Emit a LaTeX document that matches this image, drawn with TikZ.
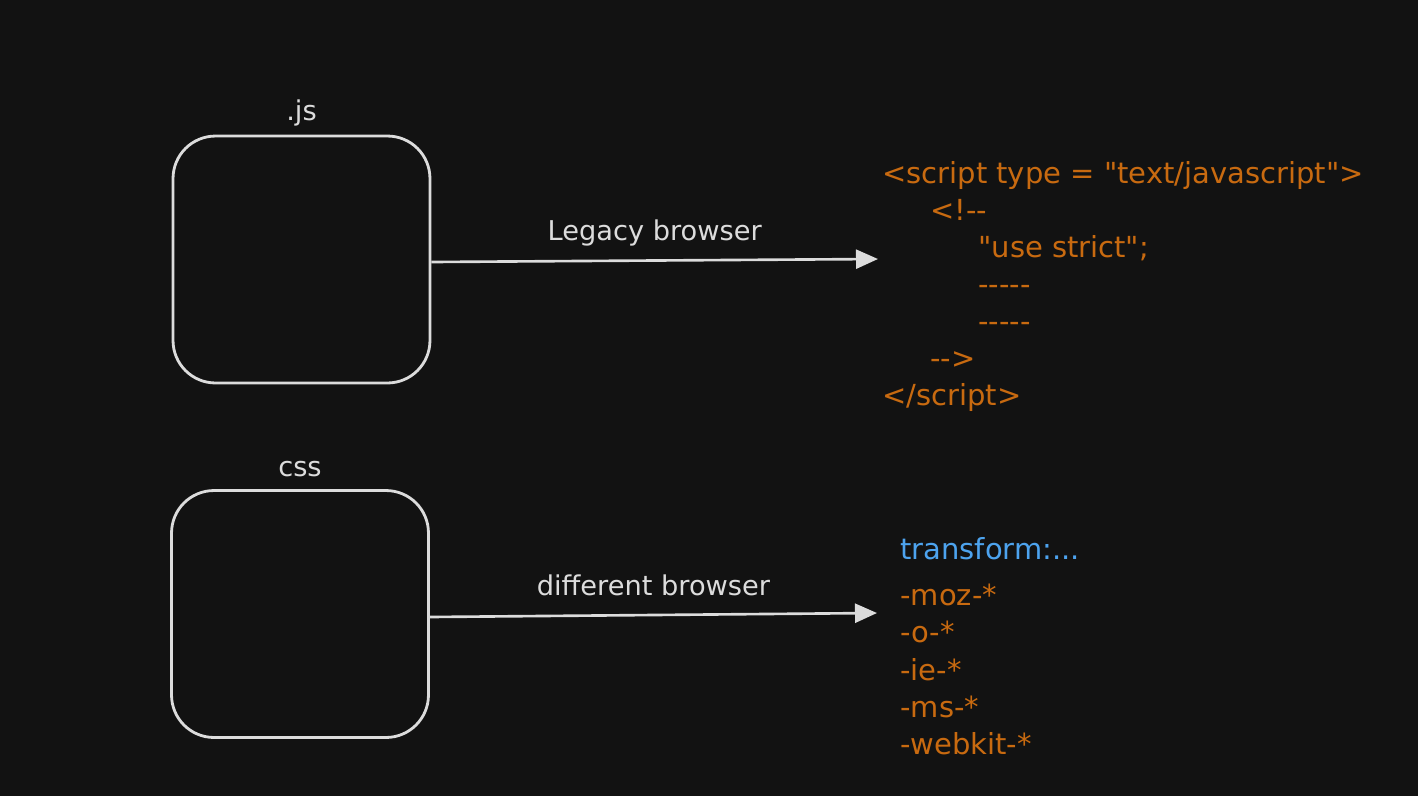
\documentclass[tikz,border=0pt]{standalone}
\usepackage{fontspec}
\setmainfont{DejaVu Sans}[Ligatures=TeXOff]
\usetikzlibrary{arrows.meta, positioning}
\definecolor{bgdark}{HTML}{121212}
\definecolor{strokelight}{HTML}{DCDCDC}
\definecolor{codeorange}{HTML}{C86A10}
\definecolor{propblue}{HTML}{4DA3EE}
\tikzset{
    filebox/.style={draw=strokelight, line width=1.6pt, rounded corners=0.85cm, minimum width=5.14cm, minimum height=4.94cm},
    boxlabel/.style={text=strokelight, font=\fontsize{15.5}{18}\selectfont},
    flow/.style={-{Triangle[length=0.44cm, width=0.38cm]}, draw=strokelight, line width=1.5pt},
    flowlabel/.style={text=strokelight, font=\fontsize{15.5}{18}\selectfont, anchor=base, yshift=0.4cm},
    codeblock/.style={text=codeorange, align=left, inner sep=0pt, font=\fontsize{16.5}{21.1}\selectfont}
}

\begin{document}
\begin{tikzpicture}[x=0.02cm, y=-0.02cm]
\fill[bgdark] (0,0) rectangle (1418,796);
\useasboundingbox (0,0) rectangle (1418,796);

% Boxes
\node[filebox] (jsbox)  at (301.5,259.5) {};
\node[filebox] (cssbox) at (300,614) {};

\node[boxlabel, above=0.04cm of jsbox]  (jslabel)  {.js};
\node[boxlabel, above=0.12cm of cssbox] (csslabel) {css};

% Code on the right
\coordinate (jsend)  at (878,259);
\coordinate (cssend) at (877,613);

\node[codeblock, anchor=north west] (jscode) at (882,161)
  {<script type = "text/javascript">\\
   \hspace*{0.96cm}<!--\\
   \hspace*{1.92cm}"use strict";\\
   \hspace*{1.92cm}-----\\
   \hspace*{1.92cm}-----\\
   \hspace*{0.96cm}-->\\
   </script>};

\node[codeblock, text=propblue, anchor=north west] (csstransform) at (900,537) {transform:...};
\node[codeblock, anchor=north west] (cssprefix) at (900,584)
  {-moz-*\\ -o-*\\ -ie-*\\ -ms-*\\ -webkit-*};

% Arrows
\draw[flow] (jsbox.east |- 0,262) -- (jsend) node[midway, flowlabel] {Legacy browser};
\draw[flow] (cssbox.east |- 0,617) -- (cssend) node[midway, flowlabel] {different browser};
\end{tikzpicture}
\end{document}
